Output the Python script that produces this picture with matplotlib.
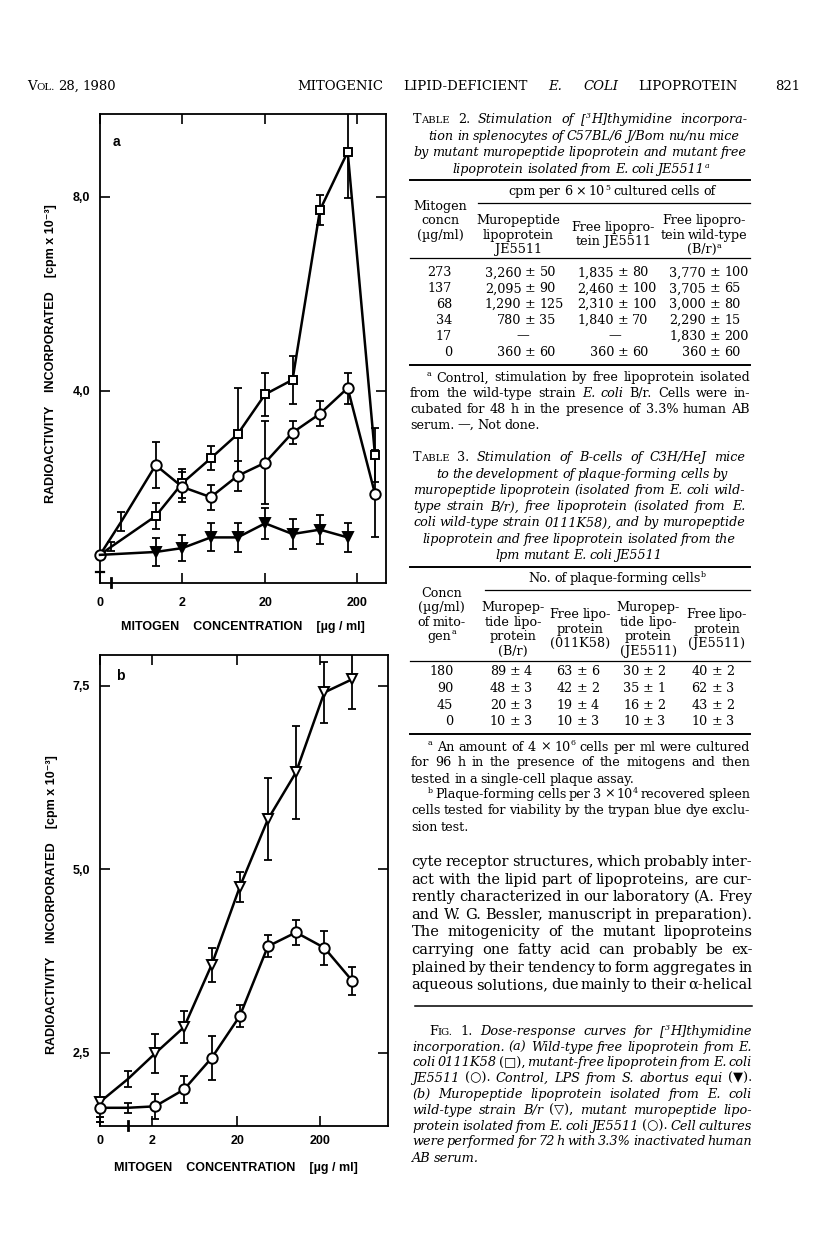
import matplotlib
matplotlib.use('Agg')
import matplotlib.pyplot as plt
from matplotlib.lines import Line2D
from matplotlib.ticker import NullLocator

# ---- figure 1a data (cpm x 10^-3), concentration in ug/ml (0 = no mitogen)
conc_sq_a = [0, 0.35, 1.07, 2.1, 4.3, 8.5, 17, 34, 68, 137, 273]
sq_a = [0.62, 0.79, 1.42, 2.10, 2.61, 3.11, 3.93, 4.23, 7.73, 8.93, 2.68]
sq_a_err = [0, 0.10, 0.27, 0.30, 0.25, 0.95, 0.45, 0.49, 0.31, 0.95, 0.56]

conc_ci_a = [0, 0.45, 1.07, 2.1, 4.3, 8.5, 17, 34, 68, 137, 273]
ci_a = [0.62, 1.31, 2.47, 2.02, 1.81, 2.25, 2.52, 3.14, 3.53, 4.06, 1.88]
ci_a_err = [0, 0.20, 0.48, 0.30, 0.26, 0.31, 0.85, 0.24, 0.26, 0.32, 0.90]

conc_lps_a = [0, 1.07, 2.1, 4.3, 8.5, 17, 34, 68, 137]
lps_a = [0.62, 0.68, 0.76, 0.98, 0.98, 1.27, 1.05, 1.14, 0.98]
lps_a_err = [0, 0.28, 0.27, 0.29, 0.30, 0.32, 0.30, 0.30, 0.30]

# ---- figure 1b data
conc_b = [0, 1.07, 2.1, 4.3, 8.5, 17, 34, 68, 137, 273]
tri_b = [1.83, 2.14, 2.49, 2.85, 3.70, 4.76, 5.68, 6.32, 7.41, 7.59]
tri_b_err = [0, 0.11, 0.26, 0.22, 0.23, 0.20, 0.56, 0.63, 0.41, 0.40]
ci_b = [1.75, 1.75, 1.77, 2.00, 2.43, 3.00, 3.95, 4.14, 3.93, 3.48]
ci_b_err = [0, 0.07, 0.17, 0.18, 0.30, 0.15, 0.15, 0.17, 0.23, 0.19]

# ---- table 2
t2_conc = ['273', '137', '68', '34', '17', '0']
t2_muro = [3260, 2095, 1290, 780, None, 360]
t2_muro_sd = [50, 90, 125, 35, None, 60]
t2_free = [1835, 2460, 2310, 1840, None, 360]
t2_free_sd = [80, 100, 100, 70, None, 60]
t2_wt = [3770, 3705, 3000, 2290, 1830, 360]
t2_wt_sd = [100, 65, 80, 15, 200, 60]

# ---- table 3
t3_conc = ['180', '90', '45', '0']
t3_br = [89, 48, 20, 10]
t3_br_sd = [4, 3, 3, 3]
t3_k58 = [63, 42, 19, 10]
t3_k58_sd = [6, 2, 4, 3]
t3_je_muro = [30, 35, 16, 10]
t3_je_muro_sd = [2, 1, 2, 3]
t3_je_free = [40, 62, 43, 10]
t3_je_free_sd = [2, 3, 2, 3]

W, H = 816, 1255
fig = plt.figure(figsize=(W / 100, H / 100), dpi=100)
fig.patch.set_facecolor('white')
renderer = fig.canvas.get_renderer()
SERIF = ['DejaVu Serif', 'DejaVu Sans']
SANS = ['Liberation Sans', 'DejaVu Sans']


def fx(x):
    return x / W


def fy(y):
    return 1 - y / H


def parse_word(word, italic):
    # _ toggles italic, ^ small caps for rest of word, {..} superscript
    segs = []
    state = {'buf': '', 'sc': False, 'sup': False}

    def flush():
        b = state['buf']
        if b:
            if state['sc']:
                segs.append((b[0].upper(), italic, 1.0, False))
                if len(b) > 1:
                    segs.append((b[1:].upper(), italic, 0.78, False))
            else:
                segs.append((b, italic, 0.62 if state['sup'] else 1.0, state['sup']))
        state['buf'] = ''

    for ch in word:
        if ch == '_':
            flush()
            italic = not italic
        elif ch == '^':
            flush()
            state['sc'] = True
        elif ch == '{':
            flush()
            state['sup'] = True
        elif ch == '}':
            flush()
            state['sup'] = False
        else:
            state['buf'] += ch
    flush()
    return segs, italic


def draw_line(line, y, x0, x1=None, size=10.5, italic=False, mode='left'):
    px = size * 100 / 72
    items, widths = [], []
    it0 = italic
    for w in line.split():
        segs, italic = parse_word(w, italic)
        arts, wsum = [], 0
        for txt, it, scale, sup in segs:
            t = fig.text(0, 0, txt, fontsize=size * scale, family=SERIF,
                         style='italic' if it else 'normal', va='baseline', ha='left')
            arts.append((t, wsum, sup))
            wsum += t.get_window_extent(renderer).width
        items.append(arts)
        widths.append(wsum)
    n = len(items)
    space = 0.25 * px
    if mode == 'justify' and n > 1 and sum(widths) + (n - 1) * 0.6 * space > x1 - x0:
        # too wide: shrink slightly and redo
        for arts in items:
            for t, _, _ in arts:
                t.remove()
        draw_line(line, y, x0, x1, size * 0.97, it0, mode)
        return
    total = sum(widths) + space * (n - 1)
    gap, start = space, x0
    if mode == 'justify' and n > 1:
        gap = (x1 - x0 - sum(widths)) / (n - 1)
    elif mode == 'center':
        start = x0 - total / 2
    elif mode == 'right':
        start = x0 - total
    base = y + 0.36 * px
    x = start
    for arts, wd in zip(items, widths):
        for t, off, sup in arts:
            t.set_position((fx(x + off), fy(base - (0.4 * px if sup else 0))))
        x += wd + gap


def rule(y, x0, x1, lw=1.1):
    fig.add_artist(Line2D([fx(x0), fx(x1)], [fy(y), fy(y)], color='black', lw=lw,
                          transform=fig.transFigure))


def pm_cell(xc, y, mean, sd, size):
    yb = fy(y + 0.36 * size * 100 / 72)
    if mean is None:
        fig.text(fx(xc - 8), yb, '\u2014', fontsize=size, family=SERIF, ha='center', va='baseline')
        return
    fig.text(fx(xc), yb, '\u00b1', fontsize=size, family=SERIF, ha='center', va='baseline')
    fig.text(fx(xc - 9), yb, f'{mean:,}', fontsize=size, family=SERIF, ha='right', va='baseline')
    fig.text(fx(xc + 9), yb, f'{sd}', fontsize=size, family=SERIF, ha='left', va='baseline')


# ---------------- running head
draw_line('^Vol. 28, 1980', 85, 27, size=9.5)
draw_line('MITOGENIC LIPID-DEFICIENT _E. COLI_ LIPOPROTEIN', 85, 297, 738, size=9.5, mode='justify')
draw_line('821', 85, 775, size=9.5)

# ---------------- plots
TICK_KW = dict(direction='in', length=7, width=1.2, top=True, right=True)


def panel(rect, xlim, ylim):
    l, t, r, b = rect
    ax = fig.add_axes([fx(l), fy(b), (r - l) / W, (b - t) / H])
    ax.set_xscale('log')
    ax.set_xlim(*xlim)
    ax.set_ylim(*ylim)
    for s in ax.spines.values():
        s.set_linewidth(1.3)
    ax.xaxis.set_minor_locator(NullLocator())
    ax.yaxis.set_minor_locator(NullLocator())
    return ax


def series(ax, conc, vals, errs, zero, marker, ms, fill, shown):
    x = [c if c > 0 else zero for c in conc]
    idx = [i for i in range(len(x)) if errs[i] > 0]
    ax.errorbar([x[i] for i in idx], [vals[i] for i in idx], yerr=[errs[i] for i in idx],
                fmt='none', ecolor='black', elinewidth=1.3, capsize=3.2, capthick=1.3, zorder=2)
    ax.plot(x, vals, color='black', lw=1.8, marker=marker, markevery=shown, ms=ms,
            mfc=fill, mec='black', mew=1.4, clip_on=False, zorder=3)


def style_axes(ax, xt, xl, yt, yl, xpad, ylab_xy, xlab_xy):
    ax.set_xticks(xt)
    ax.set_xticklabels(xl)
    ax.set_yticks(yt)
    ax.set_yticklabels(yl)
    ax.tick_params(**TICK_KW)
    ax.tick_params(axis='x', pad=xpad)
    ax.tick_params(axis='y', pad=7)
    for lab in ax.get_xticklabels() + ax.get_yticklabels():
        lab.set_fontfamily(SANS)
        lab.set_fontweight('bold')
        lab.set_fontsize(9)
    ax.set_ylabel('RADIOACTIVITY    INCORPORATED    [cpm x 10\u207b\u00b3]',
                  family=SANS, fontweight='bold', fontsize=9)
    ax.yaxis.set_label_coords(*ylab_xy)
    ax.set_xlabel('MITOGEN    CONCENTRATION    [\u00b5g / ml]',
                  family=SANS, fontweight='bold', fontsize=9)
    ax.xaxis.set_label_coords(*xlab_xy)


# panel a
ZERO_A = 0.262
axa = panel((100, 114, 385.7, 583), (ZERO_A, 358), (0.04, 9.71))
series(axa, conc_sq_a, sq_a, sq_a_err, ZERO_A, 's', 6, 'white', [2, 3, 4, 5, 6, 7, 8, 9, 10])
series(axa, conc_ci_a, ci_a, ci_a_err, ZERO_A, 'o', 7.5, 'white', [0, 2, 3, 4, 5, 6, 7, 8, 9, 10])
series(axa, conc_lps_a, lps_a, lps_a_err, ZERO_A, 'v', 6.5, 'black', [1, 2, 3, 4, 5, 6, 7, 8])
style_axes(axa, [ZERO_A, 2.1, 17, 172], ['0', '2', '20', '200'], [4.0, 8.0], ['4,0', '8,0'],
           10, (-0.15, 0.49), (0.5, -0.082))
axa.plot([-0.015, 0.015], [0.27, 0.27], color='black', lw=1.6, clip_on=False,
         transform=axa.get_yaxis_transform())
axa.plot([0.35, 0.35], [-0.009, 0.011], color='black', lw=2.0, clip_on=False,
         transform=axa.get_xaxis_transform())
axa.text(0.045, 0.94, 'a', transform=axa.transAxes, family=SANS, fontweight='bold',
         fontsize=10, va='center')

# panel b
ZERO_B = 0.54
axb = panel((100, 655, 388.3, 1125.7), (ZERO_B, 664), (1.506, 7.92))
series(axb, conc_b, tri_b, tri_b_err, ZERO_B, 'v', 7, 'white', [0, 2, 3, 4, 5, 6, 7, 8, 9])
series(axb, conc_b, ci_b, ci_b_err, ZERO_B, 'o', 7.5, 'white', [0, 2, 3, 4, 5, 6, 7, 8, 9])
style_axes(axb, [ZERO_B, 1.97, 16, 123], ['0', '2', '20', '200'], [2.5, 5.0, 7.5],
           ['2,5', '5,0', '7,5'], 7, (-0.145, 0.47), (0.47, -0.078))
for v in (1.62, 1.56):
    axb.plot([-0.012, 0.012], [v, v], color='black', lw=1.4, clip_on=False,
             transform=axb.get_yaxis_transform())
axb.plot([1.07, 1.07], [-0.01, 0.01], color='black', lw=2.0, clip_on=False,
         transform=axb.get_xaxis_transform())
axb.text(0.055, 0.955, 'b', transform=axb.transAxes, family=SANS, fontweight='bold',
         fontsize=10, va='center')

# ---------------- table 2
TS = 9.2
draw_line('_^Table 2._ Stimulation of [{3}H]thymidine incorpora-', 118.3, 413, 747, TS, True, 'justify')
draw_line('tion in splenocytes of C57BL/6 J/Bom nu/nu mice', 135, 584, size=TS, italic=True, mode='center')
draw_line('by mutant muropeptide lipoprotein and mutant free', 151.7, 413, 747, TS, True, 'justify')
draw_line('lipoprotein isolated from E. coli JE5511{a}', 168.3, 581, size=TS, italic=True, mode='center')
rule(180, 410, 750, 1.4)
draw_line('cpm per 6 \u00d7 10{5} cultured cells of', 190.7, 612, size=TS, mode='center')
rule(203.3, 478, 750, 0.9)
for txt, y in [('Mitogen', 205), ('concn', 219), ('(\u00b5g/ml)', 234.3)]:
    draw_line(txt, y, 440.7, size=TS, mode='center')
for txt, y in [('Muropeptide', 219), ('lipoprotein', 234.3), ('JE5511', 248.3)]:
    draw_line(txt, y, 518.3, size=TS, mode='center')
for txt, y in [('Free lipopro-', 226.7), ('tein JE5511', 240.7)]:
    draw_line(txt, y, 613.3, size=TS, mode='center')
for txt, y in [('Free lipopro-', 219), ('tein wild-type', 234.3), ('(B/r){a}', 248.3)]:
    draw_line(txt, y, 704, size=TS, mode='center')
rule(258.3, 410, 750, 0.9)
t2_rows = [271.7, 287.7, 303.3, 319.3, 335, 351.7]
for i, y in enumerate(t2_rows):
    draw_line(t2_conc[i], y, 452, size=TS, mode='right')
    pm_cell(530.5, y, t2_muro[i], t2_muro_sd[i], TS)
    pm_cell(623, y, t2_free[i], t2_free_sd[i], TS)
    pm_cell(715, y, t2_wt[i], t2_wt_sd[i], TS)
rule(365, 410, 750, 1.4)
draw_line('{a} Control, stimulation by free lipoprotein isolated', 376.7, 427, 750, TS, False, 'justify')
draw_line('from the wild-type strain _E. coli_ B/r. Cells were in-', 392.7, 410, 750, TS, False, 'justify')
draw_line('cubated for 48 h in the presence of 3.3% human AB', 408.3, 410, 750, TS, False, 'justify')
draw_line('serum. \u2014, Not done.', 424, 410, size=TS)

# ---------------- table 3
draw_line('_^Table 3._ Stimulation of B-cells of C3H/HeJ mice', 456.7, 413, 745, TS, True, 'justify')
draw_line('to the development of plaque-forming cells by', 473.3, 582, size=TS, italic=True, mode='center')
draw_line('muropeptide lipoprotein (isolated from E. coli wild-', 489.3, 413, 745, TS, True, 'justify')
draw_line('type strain B/r), free lipoprotein (isolated from E.', 505.7, 413, 745, TS, True, 'justify')
draw_line('coli wild-type strain 0111K58), and by muropeptide', 521.7, 413, 745, TS, True, 'justify')
draw_line('lipoprotein and free lipoprotein isolated from the', 538.3, 579, size=TS, italic=True, mode='center')
draw_line('lpm mutant E. coli JE5511', 554.3, 579, size=TS, italic=True, mode='center')
rule(566.7, 410, 750, 1.4)
draw_line('No. of plaque-forming cells{b}', 577.3, 617, size=TS, mode='center')
rule(590, 485, 750, 0.9)
for txt, y in [('Concn', 592.7), ('(\u00b5g/ml)', 606.7), ('of mito-', 621), ('gen{a}', 635)]:
    draw_line(txt, y, 441.7, size=TS, mode='center')
for xc in (513.3, 648.3):
    name = '(B/r)' if xc < 600 else '(JE5511)'
    for txt, y in [('Muropep-', 606.7), ('tide lipo-', 621), ('protein', 635), (name, 650)]:
        draw_line(txt, y, xc, size=TS, mode='center')
for xc, name in ((580, '(011K58)'), (716.7, '(JE5511)')):
    for txt, y in [('Free lipo-', 613.3), ('protein', 628.3), (name, 642.7)]:
        draw_line(txt, y, xc, size=TS, mode='center')
rule(660.7, 410, 750, 0.9)
t3_rows = [670.7, 687.3, 704, 720]
for i, y in enumerate(t3_rows):
    draw_line(t3_conc[i], y, 453.3, size=TS, mode='right')
    pm_cell(515, y, t3_br[i], t3_br_sd[i], TS)
    pm_cell(581.7, y, t3_k58[i], t3_k58_sd[i], TS)
    pm_cell(648.3, y, t3_je_muro[i], t3_je_muro_sd[i], TS)
    pm_cell(716.7, y, t3_je_free[i], t3_je_free_sd[i], TS)
rule(734, 410, 750, 1.4)
draw_line('{a} An amount of 4 \u00d7 10{6} cells per ml were cultured', 746, 428, 750, TS, False, 'justify')
draw_line('for 96 h in the presence of the mitogens and then', 761.7, 411, 750, TS, False, 'justify')
draw_line('tested in a single-cell plaque assay.', 778.3, 411, size=TS)
draw_line('{b} Plaque-forming cells per 3 \u00d7 10{4} recovered spleen', 793.3, 428, 750, TS, False, 'justify')
draw_line('cells tested for viability by the trypan blue dye exclu-', 809.3, 411, 750, TS, False, 'justify')
draw_line('sion test.', 826.7, 411, size=TS)

# ---------------- body text
BS = 10.5
body = ['cyte receptor structures, which probably inter-',
        'act with the lipid part of lipoproteins, are cur-',
        'rently characterized in our laboratory (A. Frey',
        'and W. G. Bessler, manuscript in preparation).',
        'The mitogenicity of the mutant lipoproteins',
        'carrying one fatty acid can probably be ex-',
        'plained by their tendency to form aggregates in',
        'aqueous solutions, due mainly to their \u03b1-helical']
for i, ln in enumerate(body):
    draw_line(ln, 860.7 + i * 17.6, 411.7, 752.3, BS, False, 'justify')
rule(1006, 415, 752, 1.1)

# ---------------- figure legend
CS = 9.3
caption = ['_^Fig. 1._ Dose-response curves for [{3}H]thymidine',
           'incorporation. (a) Wild-type free lipoprotein from E.',
           'coli 0111K58 _(\u25a1),_ mutant-free lipoprotein from E. coli',
           'JE5511 _(\u25cb)._ Control, LPS from S. abortus equi _(\u25bc)._',
           '(b) Muropeptide lipoprotein isolated from E. coli',
           'wild-type strain B/r _(\u25bd),_ mutant muropeptide lipo-',
           'protein isolated from E. coli JE5511 _(\u25cb)._ Cell cultures',
           'were performed for 72 h with 3.3% inactivated human',
           'AB serum.']
cap_y = [1030.7, 1046.7, 1061.7, 1077.3, 1093.3, 1109.3, 1125, 1140, 1157.3]
for i, ln in enumerate(caption):
    x0 = 429 if i == 0 else 412
    mode = 'left' if i == len(caption) - 1 else 'justify'
    draw_line(ln, cap_y[i], x0, 752, CS, True, mode)

fig.savefig('out.png', dpi=100, facecolor='white')
